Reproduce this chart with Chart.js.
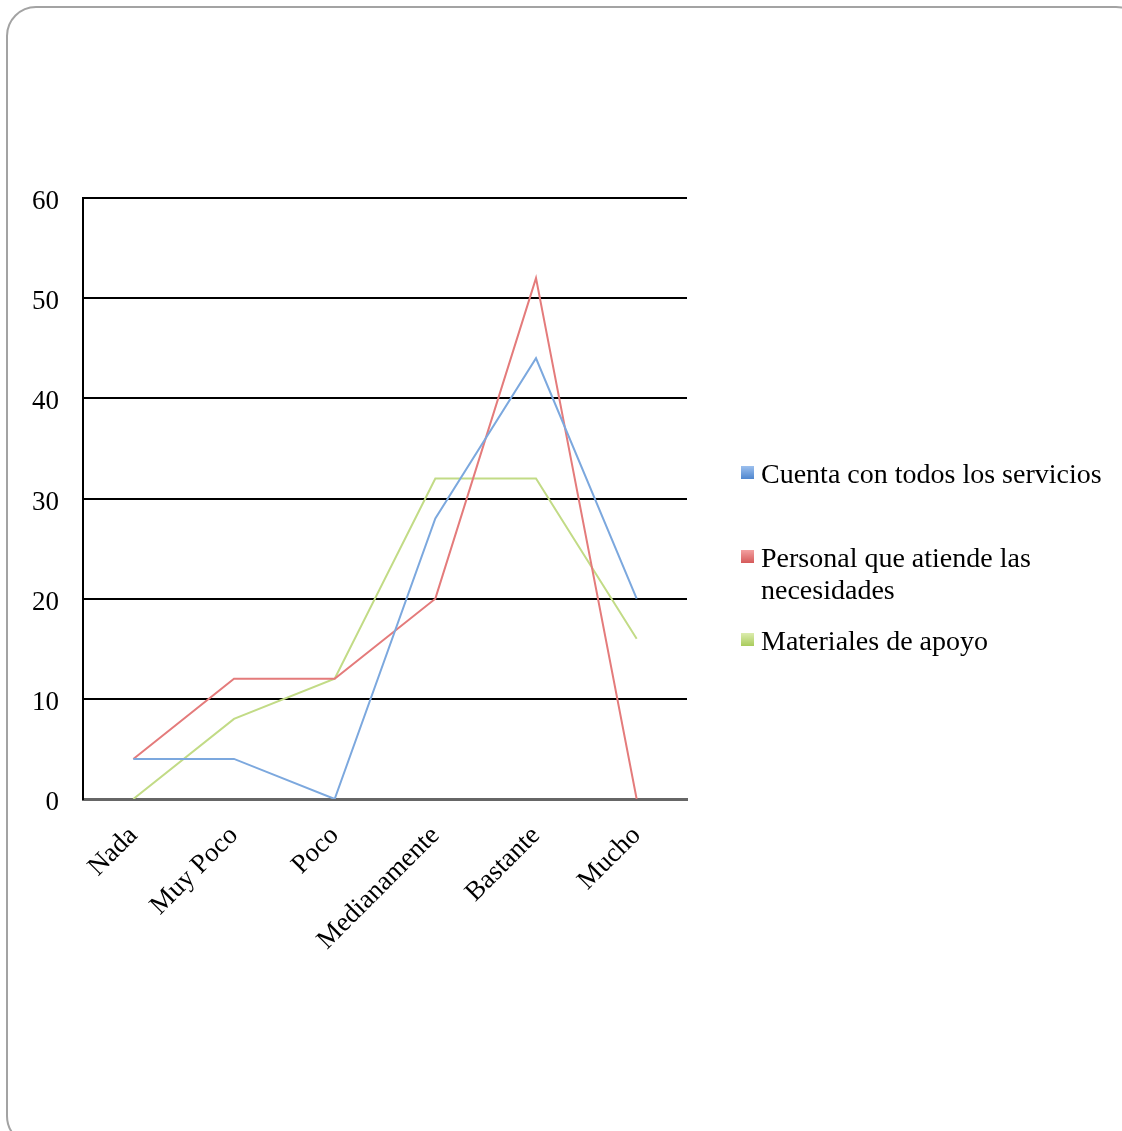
<!DOCTYPE html>
<html>
<head>
<meta charset="utf-8">
<script src="https://cdn.jsdelivr.net/npm/chart.js@4.4.1/dist/chart.umd.min.js"></script>
<style>
  html, body { margin: 0; padding: 0; background: #fff; }
  body { width: 1122px; height: 1131px; overflow: hidden; position: relative; }
  #frame {
    position: absolute; left: 6px; top: 6px; width: 1140px; height: 1140px;
    border: 2px solid #a3a3a3; border-radius: 30px; box-sizing: border-box;
  }
  #wrap { position: absolute; left: 0; top: 0; width: 1122px; height: 1131px; }
  #legend {
    position: absolute; left: 741px; top: 458px; width: 372px;
    font-family: "Liberation Serif", serif; font-size: 28px; color: #000;
  }
  .item { position: relative; padding-left: 20px; line-height: 32px; white-space: normal; }
  .box { position: absolute; left: 0; top: 8px; width: 13px; height: 13px; }
</style>
</head>
<body>
<div id="frame"></div>
<div id="wrap"><canvas id="c" width="1122" height="1131"></canvas></div>
<div id="legend"></div>
<script>
const categories = ["Nada", "Muy Poco", "Poco", "Medianamente", "Bastante", "Mucho"];
const seriesNames = ["Cuenta con todos los servicios", "Personal que atiende las necesidades", "Materiales de apoyo"];
const servicios = [4, 4, 0, 28, 44, 20];
const personal = [4, 12, 12, 20, 52, 0];
const materiales = [0, 8, 12, 32, 32, 16];
const yTicks = [0, 10, 20, 30, 40, 50, 60];

const lineColors = ["#7ca8de", "#e47b7b", "#c2db86"];
const boxColors = ["linear-gradient(#9cc0ee,#4f86cf)", "linear-gradient(#f3a0a0,#d55a5a)", "linear-gradient(#dcecae,#a9cc5c)"];

const serif = "'Liberation Serif', serif";

const chart = new Chart(document.getElementById("c"), {
  type: "line",
  data: {
    labels: categories,
    datasets: [servicios, personal, materiales].map((d, i) => ({
      label: seriesNames[i],
      data: d,
      borderColor: lineColors[i],
      backgroundColor: lineColors[i],
      borderWidth: 2,
      pointRadius: 0,
      tension: 0,
      fill: false
    }))
  },
  options: {
    responsive: false,
    animation: false,
    layout: { padding: { top: 198, right: 435, left: 0, bottom: 0 } },
    plugins: { legend: { display: false }, tooltip: { enabled: false } },
    scales: {
      x: {
        offset: true,
        grid: { display: false, drawTicks: false },
        border: { display: true, color: "#666", width: 3 },
        ticks: {
          color: "#000", font: { family: serif, size: 27 },
          minRotation: 45, maxRotation: 45, padding: 21, autoSkip: false
        },
        afterFit: s => { s.height = 1131 - 799; }
      },
      y: {
        min: 0, max: 60,
        afterBuildTicks: s => { s.ticks = yTicks.map(v => ({ value: v })); },
        grid: {
          drawTicks: false,
          color: ctx => ctx.tick && ctx.tick.value === 0 ? "rgba(0,0,0,0)" : "#000",
          lineWidth: 2
        },
        border: { display: true, color: "#000", width: 2 },
        ticks: { color: "#000", font: { family: serif, size: 27 }, padding: 24, labelOffset: 4 },
        afterFit: s => { s.width = 83; }
      }
    }
  }
});

// legend built from the datasets
const legend = document.getElementById("legend");
const gaps = [0, 52, 19];
chart.data.datasets.forEach((ds, i) => {
  const el = document.createElement("div");
  el.className = "item";
  el.style.marginTop = gaps[i] + "px";
  const b = document.createElement("span");
  b.className = "box";
  b.style.background = boxColors[i];
  el.appendChild(b);
  el.appendChild(document.createTextNode(ds.label));
  legend.appendChild(el);
});
</script>
</body>
</html>
